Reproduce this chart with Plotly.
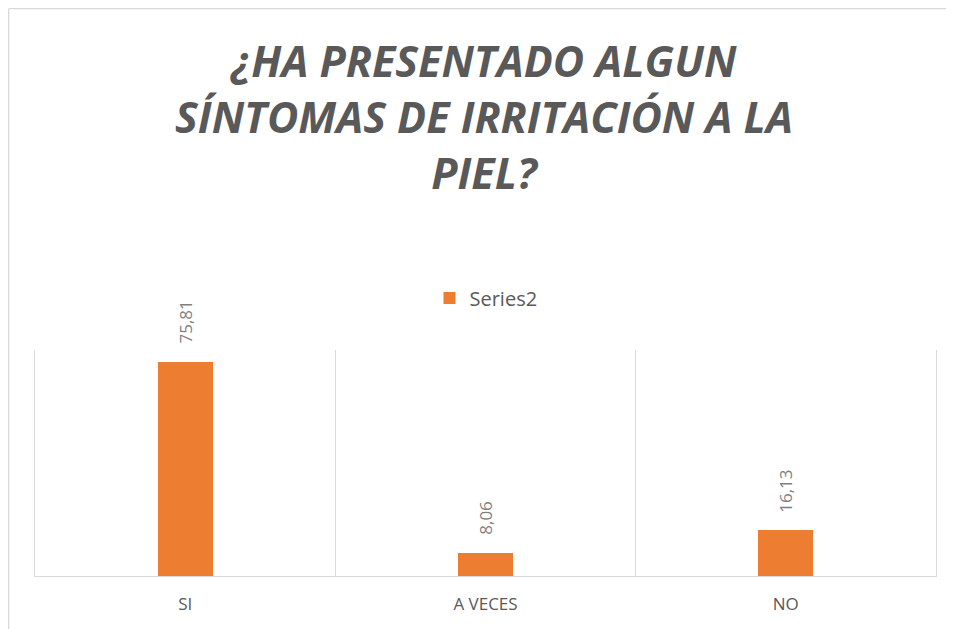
import plotly.graph_objects as go

categories = ["SI", "A VECES", "NO"]
values = [75.81, 8.06, 16.13]
series_name = "Series2"
title_text = "¿HA PRESENTADO ALGUN<br>SÍNTOMAS DE IRRITACIÓN A LA<br>PIEL?"

# page body has an 8px margin, so the figure is drawn 8px smaller and offset
OFF = 8
W, H = 954 - OFF, 629 - OFF
L, R, T, B = 35 - OFF, 18, 350 - OFF, 53
pw = W - L - R
ph = H - T - B

fig = go.Figure()
fig.add_trace(go.Bar(
    x=categories, y=values, name=series_name,
    marker=dict(color="#ED7D31", line=dict(width=0)),
    width=0.183,
    showlegend=True,
))

for c, v in zip(categories, values):
    fig.add_annotation(x=c, y=v, xref="x", yref="y",
                       text=f"{v:.2f}".replace(".", ","), showarrow=False,
                       textangle=-90, yanchor="bottom", xanchor="center", yshift=16,
                       font=dict(family="Open Sans", size=17, color="#7F7F7F"))

# chart-area border (left and top edges visible in the reference)
bx = (0.7 - L) / pw
by = (H - B - 0.7) / ph
fig.add_shape(type="line", xref="paper", yref="paper", x0=bx, x1=bx, y0=-B / ph, y1=by,
              line=dict(color="#D9D9D9", width=1.3), layer="below")
fig.add_shape(type="line", xref="paper", yref="paper", x0=bx, x1=(W - L) / pw, y0=by, y1=by,
              line=dict(color="#D9D9D9", width=1.3), layer="below")

fig.update_layout(
    width=W, height=H,
    margin=dict(l=L, r=R, t=T, b=B),
    paper_bgcolor="white", plot_bgcolor="white",
    separators=",.",
    title=dict(text=title_text, x=476 / W, xanchor="center", xref="container",
               y=1 - 69 / H, yanchor="middle", yref="container",
               font=dict(family="Open Sans", size=43, color="#595959", weight="bold", style="italic")),
    legend=dict(orientation="h", x=(478 - L) / pw, xanchor="center", y=(H - B - 290) / ph, yanchor="middle",
                font=dict(family="Open Sans", size=20, color="#595959"), itemwidth=30),
    bargap=0,
    xaxis=dict(type="category", tickson="boundaries", showgrid=True, gridcolor="#D9D9D9", gridwidth=1.3,
               showline=True, linecolor="#D9D9D9", linewidth=1.3, ticks="", ticklabelstandoff=12,
               tickfont=dict(family="Open Sans", size=17, color="#595959"), range=[-0.5, 2.5]),
    yaxis=dict(range=[0, 80], showticklabels=False, showgrid=False, zeroline=False, ticks="",
               showline=True, mirror=True, linecolor="#D9D9D9", linewidth=1.3),
)

fig.write_html("out.html")
